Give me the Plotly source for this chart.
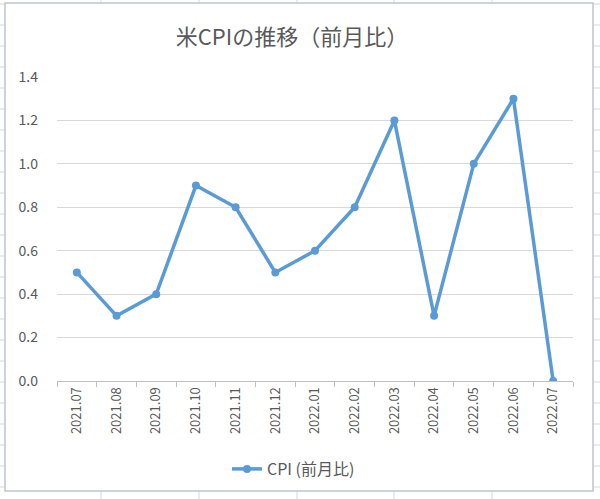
import plotly.graph_objects as go

categories = ["2021.07", "2021.08", "2021.09", "2021.10", "2021.11", "2021.12",
              "2022.01", "2022.02", "2022.03", "2022.04", "2022.05", "2022.06", "2022.07"]
cpi_mom = [0.5, 0.3, 0.4, 0.9, 0.8, 0.5, 0.6, 0.8, 1.2, 0.3, 1.0, 1.3, 0.0]
series_name = "CPI (前月比)"
title_text = "米CPIの推移（前月比）"

FONT = "Noto Sans CJK JP"
TXT = "#595959"
BLUE = "#5b9bd5"

# plot area in pixels
L, R, T, B = 57, 573, 77, 381
W, H = R - L, B - T
FW, FH = 600, 499


def px2x(px):
    return (px - L) / W


def py2y(py):
    return (B - py) / H


fig = go.Figure()
fig.add_trace(go.Scatter(
    x=categories, y=cpi_mom, mode="lines+markers", name=series_name,
    line=dict(color=BLUE, width=3.5),
    marker=dict(color=BLUE, size=8, symbol="circle"),
    showlegend=True,
))

shapes = []
# spreadsheet cell grid visible around the chart
for cx in [101, 199, 297, 394, 492]:
    shapes.append(dict(type="line", xref="paper", yref="paper",
                       x0=px2x(cx), x1=px2x(cx), y0=py2y(0), y1=py2y(FH),
                       line=dict(color="#d4d7da", width=1), layer="below"))
for ry in range(4, FH, 21):
    shapes.append(dict(type="line", xref="paper", yref="paper",
                       x0=px2x(0), x1=px2x(FW), y0=py2y(ry), y1=py2y(ry),
                       line=dict(color="#d4d7da", width=1), layer="below"))
# chart area
shapes.append(dict(type="rect", xref="paper", yref="paper",
                   x0=px2x(5), x1=px2x(593), y0=py2y(491), y1=py2y(3),
                   fillcolor="white", line=dict(color="#bcc6cf", width=1.5),
                   layer="below"))

fig.update_layout(
    width=FW, height=FH,
    margin=dict(l=L, r=FW - R, t=T, b=FH - B, pad=0),
    paper_bgcolor="white", plot_bgcolor="rgba(0,0,0,0)",
    font=dict(family=FONT, color=TXT),
    title=dict(text=title_text, x=292 / FW, xref="container", xanchor="center",
               y=1 - 37 / FH, yref="container", yanchor="middle",
               font=dict(family=FONT, size=22, color=TXT)),
    shapes=shapes,
    showlegend=True,
    legend=dict(orientation="h", x=px2x(227), y=py2y(469), xanchor="left",
                yanchor="middle", font=dict(family=FONT, size=16, color=TXT),
                bgcolor="rgba(0,0,0,0)"),
    xaxis=dict(type="category", range=[-0.5, len(categories) - 0.5],
               showgrid=False, zeroline=False, showline=True,
               linecolor="#bfbfbf", linewidth=1,
               ticks="outside", tickson="boundaries", ticklen=5,
               tickcolor="#bfbfbf", tickangle=-90,
               tickfont=dict(family=FONT, size=13, color=TXT)),
    yaxis=dict(range=[0, 1.4], dtick=0.2, tickformat=".1f",
               showgrid=True, gridcolor="#d9d9d9", gridwidth=1,
               zeroline=False, showline=False, ticks="",
               ticklabelstandoff=18,
               tickfont=dict(family=FONT, size=14, color=TXT)),
)

fig.write_html("out.html", config={"displayModeBar": False},
               post_script="document.body.style.margin='0';document.body.style.padding='0';")
